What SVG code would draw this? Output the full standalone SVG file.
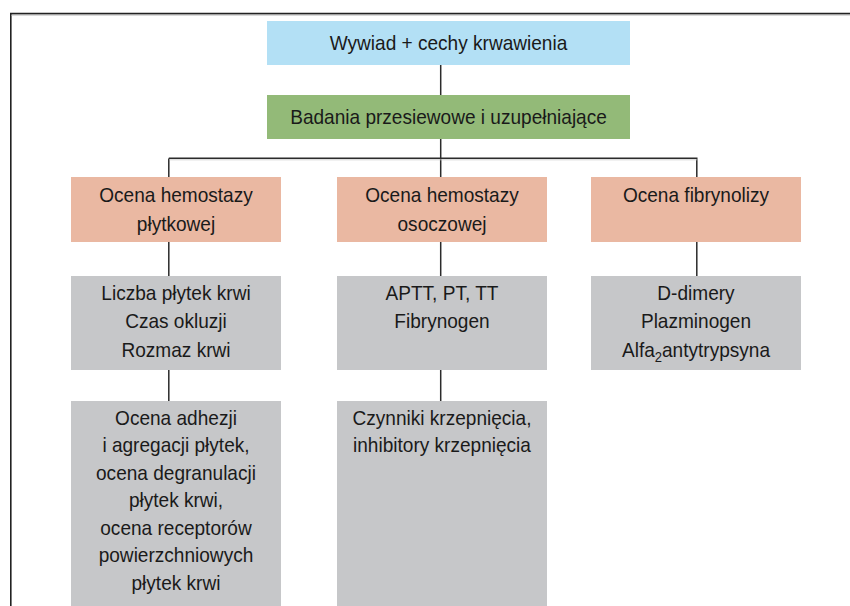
<svg xmlns="http://www.w3.org/2000/svg" width="850" height="606" viewBox="0 0 850 606">
<style>
text{font-family:"Liberation Sans",Arial,sans-serif;font-size:20.5px;fill:#1a1a1a;text-anchor:middle}
.blue{fill:#b3e0f5}.green{fill:#93ba78}.salmon{fill:#eab8a2}.gray{fill:#c6c7c9}
.conn{stroke:#2b2b2b;stroke-width:1.5;fill:none}
.frame{stroke:#222;stroke-width:1.6;fill:none}
</style>
<rect width="850" height="606" fill="#fff"/>
<path class="frame" d="M10.8 606 V13.6 H850"/>
<line x1="11.6" y1="15.2" x2="850" y2="15.2" stroke="#c8c8c8" stroke-width="1"/>
<g id="connectors">
<path class="conn" d="M440.7 65 V95 M440.7 139 V158.5 M168.8 158.3 H697.5 M168.8 158.5 V177 M440.7 158.5 V177 M696.8 158.5 V177 M168.8 242 V276 M440.7 242 V276 M696.8 242 V276 M168.8 370 V401 M440.7 370 V401"/>
<line x1="169.6" y1="159.8" x2="697.5" y2="159.8" stroke="#c8c8c8" stroke-width="0.8"/>
</g>
<g id="n-wywiad">
<rect class="blue" x="267" y="21" width="363" height="44"/>
<g transform="matrix(0.93 0 0 1 31.4 0)"><text x="448.5" y="50.5">Wywiad + cechy krwawienia</text></g>
</g>
<g id="n-badania">
<rect class="green" x="267" y="95" width="363" height="44"/>
<g transform="matrix(0.93 0 0 1 31.4 0)"><text x="448.5" y="123.8">Badania przesiewowe i uzupełniające</text></g>
</g>
<g id="n-plytkowa">
<rect class="salmon" x="71" y="177" width="210" height="65"/>
<g transform="matrix(0.93 0 0 1 12.32 0)">
<text x="176" y="202.5">Ocena hemostazy</text>
<text x="176" y="231">płytkowej</text>
</g>
</g>
<g id="n-osoczowa">
<rect class="salmon" x="337" y="177" width="210" height="65"/>
<g transform="matrix(0.93 0 0 1 30.94 0)">
<text x="442" y="202.5">Ocena hemostazy</text>
<text x="442" y="231">osoczowej</text>
</g>
</g>
<g id="n-fibrynoliza">
<rect class="salmon" x="591" y="177" width="210" height="65"/>
<g transform="matrix(0.93 0 0 1 48.72 0)">
<text x="696" y="202.5">Ocena fibrynolizy</text>
</g>
</g>
<g id="n-plytki1">
<rect class="gray" x="71" y="276" width="210" height="94"/>
<g transform="matrix(0.93 0 0 1 12.32 0)">
<text x="176" y="299.8">Liczba płytek krwi</text>
<text x="176" y="328.3">Czas okluzji</text>
<text x="176" y="356.8">Rozmaz krwi</text>
</g>
</g>
<g id="n-osocze1">
<rect class="gray" x="337" y="276" width="210" height="94"/>
<g transform="matrix(0.93 0 0 1 30.94 0)">
<text x="442" y="299.8">APTT, PT, TT</text>
<text x="442" y="327.8">Fibrynogen</text>
</g>
</g>
<g id="n-fibr1">
<rect class="gray" x="591" y="276" width="210" height="94"/>
<g transform="matrix(0.93 0 0 1 48.72 0)">
<text x="696" y="299.8">D-dimery</text>
<text x="696" y="328.3">Plazminogen</text>
<text x="696" y="356.8">Alfa<tspan font-size="14" dy="5">2</tspan><tspan dy="-5">antytrypsyna</tspan></text>
</g>
</g>
<g id="n-plytki2">
<rect class="gray" x="71" y="401" width="210" height="205"/>
<g transform="matrix(0.93 0 0 1 12.32 0)">
<text x="176" y="425">Ocena adhezji</text>
<text x="176" y="452.5">i agregacji płytek,</text>
<text x="176" y="480">ocena degranulacji</text>
<text x="176" y="507.5">płytek krwi,</text>
<text x="176" y="535">ocena receptorów</text>
<text x="176" y="562.5">powierzchniowych</text>
<text x="176" y="590">płytek krwi</text>
</g>
</g>
<g id="n-osocze2">
<rect class="gray" x="337" y="401" width="210" height="205"/>
<g transform="matrix(0.93 0 0 1 30.94 0)">
<text x="442" y="425.5">Czynniki krzepnięcia,</text>
<text x="442" y="452.5">inhibitory krzepnięcia</text>
</g>
</g>
</svg>
